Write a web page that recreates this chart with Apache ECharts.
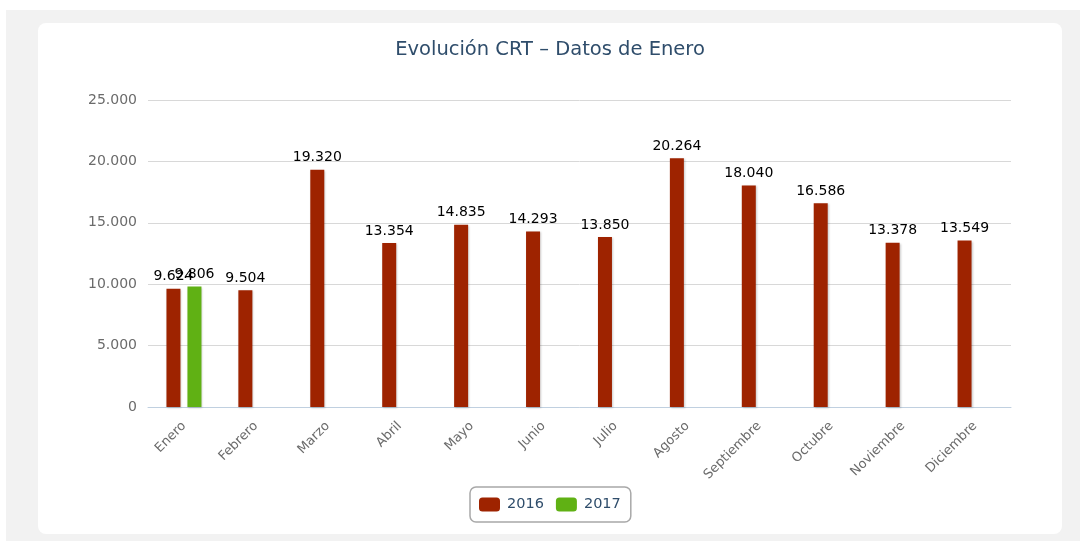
<!DOCTYPE html>
<html>
<head>
<meta charset="utf-8">
<script src="https://cdn.jsdelivr.net/npm/echarts@6/dist/echarts.min.js"></script>
<style>
  html, body { margin: 0; padding: 0; background: #fff; }
  .page { position: absolute; left: 6px; top: 10px; width: 1074px; height: 531px; background: #f2f2f2; }
  .card { position: absolute; left: 38px; top: 23px; width: 1024px; height: 511px; background: #fff; border-radius: 8px; }
  #chart { position: absolute; left: 0; top: 0; width: 1080px; height: 541px; }
</style>
</head>
<body>
<div class="page"></div>
<div class="card"></div>
<div id="chart"></div>
<script>
const categories = ['Enero', 'Febrero', 'Marzo', 'Abril', 'Mayo', 'Junio', 'Julio', 'Agosto', 'Septiembre', 'Octubre', 'Noviembre', 'Diciembre']
const values2016 = [9624, 9504, 19320, 13354, 14835, 14293, 13850, 20264, 18040, 16586, 13378, 13549]
const values2017 = [9806, null, null, null, null, null, null, null, null, null, null, null]

const FONT = 'DejaVu Sans'

// separador de miles con punto
function fmt(v) {
  return String(v).replace(/\B(?=(\d{3})+(?!\d))/g, '.')
}

function initSeries(name, data, color) {
  return {
    name,
    data,
    type: 'bar',
    barWidth: 14,
    barGap: '50%',
    itemStyle: {
      color,
      shadowColor: 'rgba(0,0,0,0.2)',
      shadowBlur: 2,
      shadowOffsetX: 1,
      shadowOffsetY: 1
    },
    label: {
      show: true,
      position: 'top',
      distance: 5,
      color: '#000',
      fontFamily: FONT,
      fontSize: 14,
      formatter: p => fmt(p.value)
    }
  }
}

const chart = echarts.init(document.getElementById('chart'))

const option = {
  animation: false,
  title: {
    text: 'Evolución CRT – Datos de Enero',
    left: 545,
    textAlign: 'center',
    top: 35,
    textStyle: {
      color: '#2f4d6b',
      fontFamily: FONT,
      fontSize: 19.5,
      fontWeight: 'normal'
    }
  },
  legend: {
    bottom: 19,
    left: 470,
    itemWidth: 21,
    itemHeight: 14,
    itemGap: 12,
    icon: 'roundRect',
    padding: [10, 10, 10, 9],
    borderColor: '#a8a8a8',
    borderWidth: 1.5,
    borderRadius: 6,
    textStyle: {
      color: '#2f4d6b',
      fontFamily: FONT,
      fontSize: 14.5,
      padding: [0, 0, 0, 2]
    }
  },
  grid: {
    left: 148,
    right: 69,
    top: 100,
    bottom: 134
  },
  xAxis: [{
    type: 'category',
    data: categories,
    axisLine: { lineStyle: { color: '#c0d0e0' } },
    axisTick: { length: 5, lineStyle: { color: '#c0d0e0' } },
    axisLabel: {
      rotate: 45,
      margin: 17,
      color: '#6b6b6b',
      fontFamily: FONT,
      fontSize: 13
    }
  }],
  yAxis: [{
    type: 'value',
    min: 0,
    max: 25000,
    interval: 5000,
    axisLine: { show: false },
    axisTick: { show: false },
    axisLabel: {
      margin: 11,
      color: '#6b6b6b',
      fontFamily: FONT,
      fontSize: 14,
      formatter: v => fmt(v)
    },
    splitLine: { lineStyle: { color: '#d8d8d8' } }
  }],
  series: [
    initSeries('2016', values2016, '#9e2300'),
    initSeries('2017', values2017, '#60b114')
  ]
}

chart.setOption(option)
</script>
</body>
</html>
